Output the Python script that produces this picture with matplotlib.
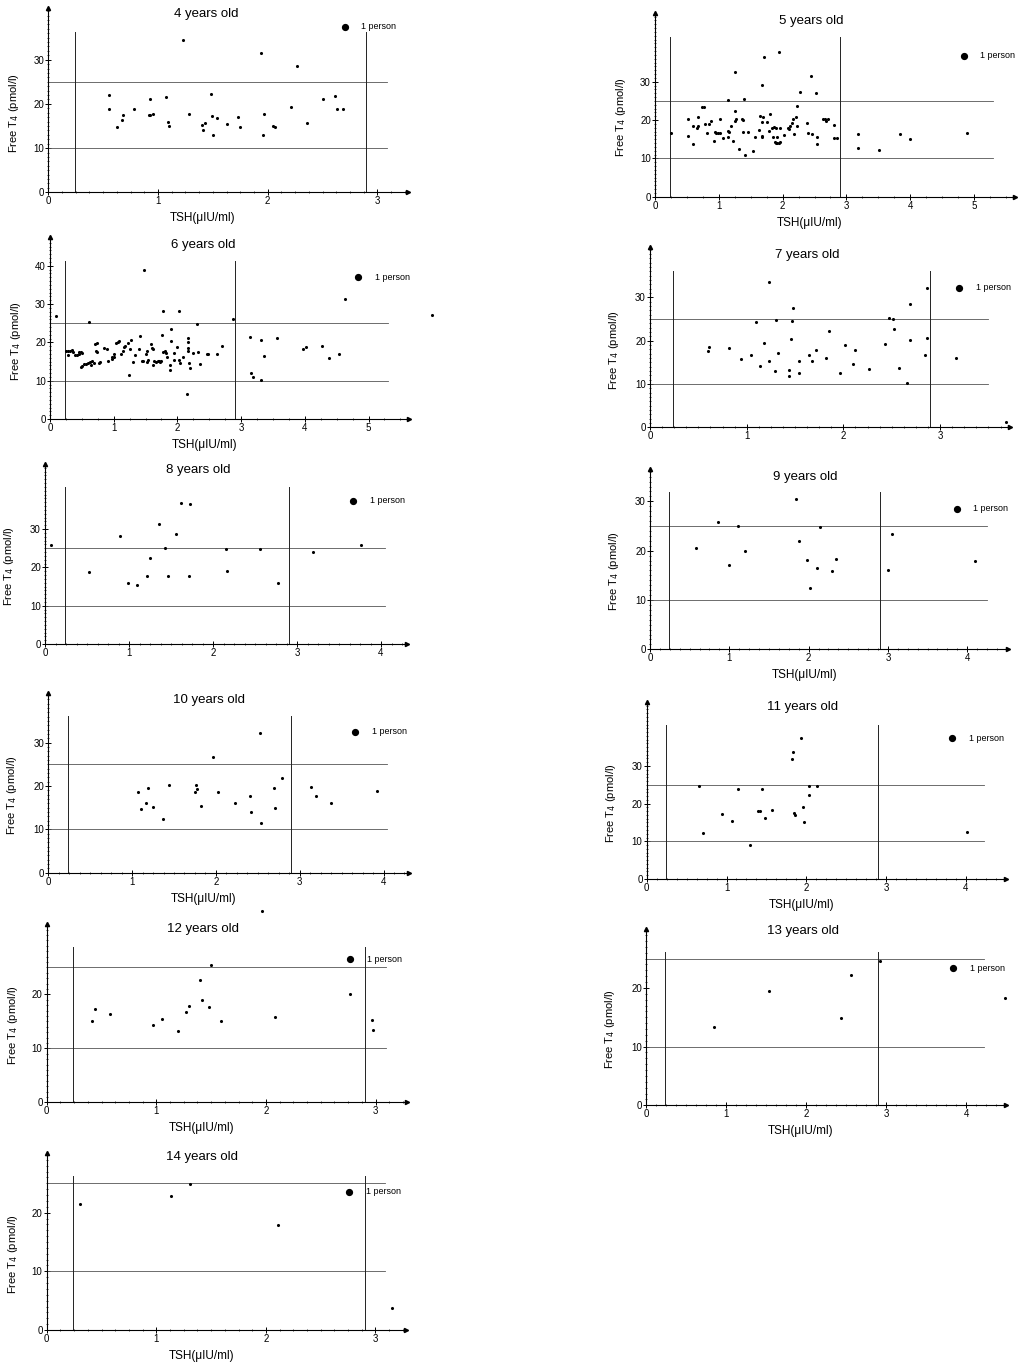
import matplotlib.pyplot as plt
from matplotlib.ticker import MultipleLocator

plt.rcParams['font.family'] = ['Liberation Sans', 'DejaVu Sans']

# TSH (uIU/ml) and free T4 (pmol/l), one pair of lists per age group
tsh_4 = [0.55, 0.55, 0.63, 0.67, 0.68, 0.78, 0.92, 0.93, 0.95, 0.93, 1.07, 1.09, 1.10, 1.23,
         1.28, 1.40, 1.41, 1.43, 1.48, 1.49, 1.50, 1.54, 1.63, 1.73, 1.75, 1.94, 1.96, 1.97,
         2.05, 2.07, 2.21, 2.27, 2.36, 2.50, 2.61, 2.63, 2.69]
ft4_4 = [22.1, 18.8, 14.7, 16.4, 17.6, 18.8, 17.5, 17.6, 17.7, 21.1, 21.5, 15.9, 14.9, 34.4,
         17.8, 15.2, 14.0, 15.7, 22.3, 17.2, 13.0, 16.8, 15.5, 17.1, 14.8, 31.5, 12.9, 17.8,
         15.0, 14.8, 19.4, 28.5, 15.6, 21.1, 21.7, 18.8, 18.9]

tsh_5 = [0.25, 0.51, 0.52, 0.59, 0.59, 0.66, 0.67, 0.68, 0.73, 0.77, 0.79, 0.81, 0.85, 0.87,
         0.92, 0.94, 0.96, 0.98, 1.02, 1.02, 1.07, 1.14, 1.14, 1.15, 1.16, 1.19, 1.22, 1.25,
         1.26, 1.27, 1.25, 1.32, 1.37, 1.38, 1.39, 1.38, 1.45, 1.41, 1.54, 1.56, 1.63, 1.65,
         1.67, 1.68, 1.68, 1.69, 1.71, 1.68, 1.76, 1.78, 1.80, 1.84, 1.85, 1.87, 1.88, 1.89,
         1.91, 1.90, 1.91, 1.95, 1.96, 1.94, 1.96, 2.02, 2.08, 2.10, 2.12, 2.14, 2.16, 2.18,
         2.21, 2.23, 2.23, 2.28, 2.39, 2.40, 2.45, 2.46, 2.52, 2.54, 2.54, 2.64, 2.66, 2.68,
         2.71, 2.81, 2.80, 2.85, 3.18, 3.18, 3.51, 3.84, 3.99, 4.89]
ft4_5 = [16.7, 20.2, 15.8, 18.5, 13.7, 17.8, 18.4, 20.9, 23.5, 23.5, 19.0, 16.5, 19.0, 19.7,
         14.6, 16.9, 16.5, 16.7, 20.3, 16.7, 15.4, 25.2, 17.2, 15.5, 16.9, 18.4, 14.6, 22.3,
         19.8, 20.2, 32.5, 12.5, 20.2, 20.0, 25.4, 17.0, 16.8, 10.8, 12.0, 15.6, 17.5, 21.1,
         15.7, 15.8, 19.6, 20.7, 36.5, 29.2, 19.4, 17.1, 21.6, 17.9, 15.7, 18.1, 14.3, 13.9,
         13.9, 17.8, 15.5, 37.8, 18.0, 14.1, 14.3, 16.1, 17.9, 17.6, 18.4, 19.1, 20.4, 16.3,
         20.9, 18.4, 23.7, 27.3, 19.1, 16.5, 31.5, 16.3, 27.0, 15.7, 13.7, 20.4, 20.2, 19.8,
         20.3, 18.6, 15.4, 15.2, 16.3, 12.6, 12.2, 16.3, 15.0, 16.7]

tsh_6 = [0.09, 0.25, 0.28, 0.31, 0.29, 0.34, 0.36, 0.39, 0.43, 0.45, 0.46, 0.49, 0.51, 0.49,
         0.51, 0.53, 0.57, 0.59, 0.61, 0.63, 0.64, 0.66, 0.69, 0.71, 0.72, 0.73, 0.74, 0.77,
         0.79, 0.85, 0.89, 0.91, 0.97, 0.98, 1.01, 1.01, 1.04, 1.06, 1.08, 1.11, 1.14, 1.16,
         1.18, 1.23, 1.24, 1.25, 1.27, 1.30, 1.34, 1.40, 1.42, 1.44, 1.46, 1.48, 1.51, 1.52,
         1.53, 1.54, 1.58, 1.60, 1.61, 1.62, 1.64, 1.66, 1.69, 1.71, 1.73, 1.75, 1.77, 1.76,
         1.77, 1.80, 1.82, 1.84, 1.88, 1.89, 1.90, 1.90, 1.94, 1.94, 1.99, 2.02, 2.02, 2.04,
         2.09, 2.15, 2.16, 2.16, 2.17, 2.16, 2.18, 2.20, 2.24, 2.30, 2.33, 2.35, 2.46, 2.48,
         2.62, 2.70, 2.88, 3.14, 3.15, 3.19, 3.31, 3.36, 3.31, 3.57, 3.97, 4.02, 4.27, 4.38,
         4.54, 4.63, 6.00]
ft4_6 = [27.0, 17.8, 17.7, 17.7, 16.6, 18.0, 17.5, 16.7, 16.8, 17.5, 17.0, 17.4, 17.1, 13.5,
         13.8, 14.3, 14.3, 14.7, 25.3, 15.0, 14.2, 15.2, 14.7, 19.6, 17.8, 19.9, 17.5, 14.6,
         14.9, 18.5, 18.2, 15.2, 15.7, 16.1, 16.3, 17.0, 19.9, 20.0, 20.3, 17.0, 17.8, 18.8,
         19.1, 19.7, 11.6, 18.3, 20.6, 15.0, 16.6, 18.3, 21.7, 15.2, 15.2, 38.9, 17.0, 17.7,
         15.0, 15.4, 19.6, 18.5, 14.0, 18.3, 15.2, 14.9, 15.2, 15.2, 15.0, 15.2, 28.1, 21.8,
         17.6, 17.8, 17.2, 16.2, 14.2, 12.9, 20.3, 23.4, 17.2, 15.5, 18.7, 28.1, 15.5, 14.6,
         16.3, 6.5, 18.5, 17.8, 21.1, 20.1, 14.7, 13.3, 17.1, 24.9, 17.6, 14.3, 17.0, 17.0,
         16.9, 19.0, 26.1, 21.4, 12.1, 11.0, 20.5, 16.5, 10.3, 21.1, 18.3, 18.8, 19.1, 15.8,
         17.0, 31.3, 27.2]

tsh_7 = [0.60, 0.61, 0.82, 0.94, 1.04, 1.10, 1.14, 1.18, 1.23, 1.23, 1.29, 1.30, 1.32, 1.44,
         1.44, 1.46, 1.47, 1.48, 1.54, 1.54, 1.64, 1.68, 1.72, 1.82, 1.85, 1.97, 2.02, 2.10,
         2.12, 2.26, 2.43, 2.47, 2.51, 2.52, 2.58, 2.66, 2.69, 2.69, 2.84, 2.86, 2.86, 3.16,
         3.68]
ft4_7 = [17.6, 18.5, 18.3, 15.7, 16.6, 24.2, 14.2, 19.5, 33.5, 15.2, 13.0, 24.8, 17.1, 13.2,
         11.8, 20.4, 24.6, 27.5, 15.4, 12.5, 16.7, 15.3, 17.8, 16.0, 22.2, 12.6, 19.0, 14.5,
         17.8, 13.5, 19.2, 25.2, 24.9, 22.8, 13.8, 10.3, 28.4, 20.2, 16.8, 32.1, 20.5, 15.9,
         1.3]

tsh_8 = [0.07, 0.52, 0.89, 0.99, 1.09, 1.22, 1.25, 1.36, 1.43, 1.46, 1.56, 1.62, 1.71, 1.73,
         2.16, 2.17, 2.56, 2.77, 3.19, 3.76]
ft4_8 = [25.7, 18.7, 28.3, 15.9, 15.4, 17.7, 22.5, 31.2, 25.0, 17.7, 28.8, 36.9, 17.7, 36.6,
         24.7, 19.0, 24.9, 15.9, 23.9, 25.8]

tsh_9 = [0.58, 0.86, 1.00, 1.11, 1.20, 1.84, 1.88, 1.98, 2.02, 2.11, 2.14, 2.29, 2.34, 3.00,
         3.05, 4.10]
ft4_9 = [20.5, 25.8, 17.0, 25.0, 20.0, 30.5, 22.0, 18.2, 12.4, 16.5, 24.7, 15.9, 18.4, 16.0,
         23.4, 17.8]

tsh_10 = [1.07, 1.11, 1.17, 1.19, 1.25, 1.37, 1.44, 1.75, 1.76, 1.77, 1.82, 1.96, 2.02, 2.23,
          2.41, 2.42, 2.53, 2.54, 2.69, 2.71, 2.79, 3.14, 3.19, 3.37, 3.92]
ft4_10 = [18.7, 14.8, 16.1, 19.5, 15.1, 12.5, 20.2, 18.7, 20.3, 19.3, 15.4, 26.7, 18.6, 16.1,
          17.6, 14.0, 32.3, 11.4, 19.6, 15.0, 21.8, 19.7, 17.7, 16.1, 18.8]

tsh_11 = [0.65, 0.71, 0.94, 1.07, 1.15, 1.29, 1.40, 1.42, 1.45, 1.48, 1.57, 1.82, 1.83, 1.85,
          1.86, 1.93, 1.96, 1.97, 2.03, 2.04, 2.13, 4.02]
ft4_11 = [24.7, 12.1, 17.3, 15.5, 23.8, 9.1, 18.1, 18.0, 23.9, 16.2, 18.3, 31.9, 33.7, 17.5,
          17.0, 37.3, 19.0, 15.0, 24.8, 22.4, 24.6, 12.6]

tsh_12 = [0.41, 0.44, 0.58, 0.97, 1.05, 1.20, 1.27, 1.30, 1.40, 1.42, 1.48, 1.50, 1.59, 1.96,
          2.08, 2.77, 2.97, 2.98]
ft4_12 = [15.0, 17.2, 16.4, 14.3, 15.4, 13.2, 16.7, 17.8, 22.7, 19.0, 17.7, 25.4, 15.1, 35.4,
          15.8, 20.1, 15.2, 13.4]

tsh_13 = [0.85, 1.54, 2.44, 2.56, 2.93, 4.49]
ft4_13 = [13.3, 19.4, 14.8, 22.2, 24.6, 18.3]

tsh_14 = [0.30, 1.13, 1.31, 2.11, 3.15]
ft4_14 = [21.5, 22.8, 24.9, 17.9, 3.7]

ages = [4, 5, 6, 7, 8, 9, 10, 11, 12, 13, 14]
tsh_data = [tsh_4, tsh_5, tsh_6, tsh_7, tsh_8, tsh_9, tsh_10, tsh_11, tsh_12, tsh_13, tsh_14]
ft4_data = [ft4_4, ft4_5, ft4_6, ft4_7, ft4_8, ft4_9, ft4_10, ft4_11, ft4_12, ft4_13, ft4_14]

# reference range: TSH 0.24-2.9, free T4 10-25
tsh_low, tsh_high = 0.24, 2.9
ft4_low, ft4_high = 10, 25

# panel layout in pixels: origin x, origin y (from top), x scale, y scale,
# x end, y end, last x tick, last y tick, title pos, legend pos, ylabel x, xlabel shown
layout = [
    (48.3, 192.3, 109.7, 4.42, 3.28, 41.8, 3, 30, (0.44, 0.965), (0.824, 0.895), -0.075, True),
    (655, 196.7, 63.8, 3.833, 5.64, 48.0, 5, 30, (0.435, 0.957), (0.858, 0.765), -0.075, True),
    (50, 419, 63.7, 3.833, 5.64, 47.4, 5, 40, (0.426, 0.958), (0.858, 0.78), -0.075, True),
    (650, 427.3, 96.7, 4.333, 3.72, 41.5, 3, 30, (0.436, 0.958), (0.859, 0.776), -0.08, False),
    (45, 644, 84.0, 3.833, 4.31, 47.0, 4, 30, (0.423, 0.967), (0.851, 0.794), -0.08, False),
    (650, 649.3, 79.3, 4.933, 4.52, 36.6, 4, 30, (0.432, 0.954), (0.856, 0.779), -0.08, True),
    (48.3, 872.7, 83.8, 4.333, 4.30, 41.5, 4, 30, (0.446, 0.96), (0.852, 0.784), -0.08, True),
    (646.7, 879, 79.8, 3.767, 4.50, 47.0, 4, 30, (0.435, 0.973), (0.85, 0.795), -0.08, True),
    (46.7, 1102.3, 109.6, 5.4, 3.29, 33.1, 3, 20, (0.433, 0.97), (0.841, 0.80), -0.075, True),
    (646, 1105.3, 80.0, 5.867, 4.50, 30.1, 4, 20, (0.436, 0.987), (0.853, 0.777), -0.08, True),
    (46.7, 1330, 109.6, 5.867, 3.28, 30.2, 3, 20, (0.433, 0.976), (0.841, 0.78), -0.075, True),
]

W, H = 1022, 1364
fig = plt.figure(figsize=(W / 100, H / 100), dpi=100)

for age, tsh, ft4, lay in zip(ages, tsh_data, ft4_data, layout):
    x0, y0, sx, sy, xend, yend, xt, yt, tpos, lpos, ylx, show_xl = lay
    w, h = xend * sx, yend * sy
    ax = fig.add_axes([x0 / W, 1 - y0 / H, w / W, h / H])
    ax.set_xlim(0, xend)
    ax.set_ylim(0, yend)
    for s in ['top', 'right']:
        ax.spines[s].set_visible(False)
    for s in ['left', 'bottom']:
        ax.spines[s].set_linewidth(0.8)
        ax.spines[s].set_linestyle((0, (4, 1)))
    # arrow heads at the ends of the axes
    ax.plot(1, 0, '>', color='black', ms=3, transform=ax.transAxes, clip_on=False)
    ax.plot(0, 1, '^', color='black', ms=3, transform=ax.transAxes, clip_on=False)

    ax.set_xticks(range(0, xt + 1))
    ax.set_yticks(range(0, yt + 1, 10))
    ax.xaxis.set_minor_locator(MultipleLocator(0.25 if xend > 5 else 0.125))
    ax.yaxis.set_minor_locator(MultipleLocator(1))
    ax.tick_params(which='major', direction='inout', length=4, width=0.7, labelsize=7, pad=1)
    ax.tick_params(which='minor', direction='inout', length=2, width=0.5)

    # reference range lines
    for yv in (ft4_low, ft4_high):
        ax.axhline(yv, xmin=0, xmax=0.94, color='#555555', lw=0.6)
    for xv in (tsh_low, tsh_high):
        ax.axvline(xv, ymin=0, ymax=0.87, color='#222222', lw=0.7)

    ax.scatter(tsh, ft4, s=5, color='black', linewidths=0, clip_on=False, zorder=3)

    ax.text(tpos[0], tpos[1], f'{age} years old', transform=ax.transAxes,
            ha='center', va='center', fontsize=9.5)
    ax.plot(lpos[0], lpos[1], 'o', color='black', ms=4.2, transform=ax.transAxes,
            clip_on=False)
    ax.annotate('1 person', (lpos[0], lpos[1]), xycoords='axes fraction',
                xytext=(12, 0), textcoords='offset points', va='center', fontsize=6.5)

    ax.set_ylabel('Free T$_4$ (pmol/l)', fontsize=8)
    ax.yaxis.set_label_coords(ylx, 0.43)
    if show_xl:
        ax.set_xlabel('TSH(\u03bcIU/ml)', fontsize=8.5)
        ax.xaxis.set_label_coords(0.43, -20 / h)

fig.savefig('out.png', dpi=100)
